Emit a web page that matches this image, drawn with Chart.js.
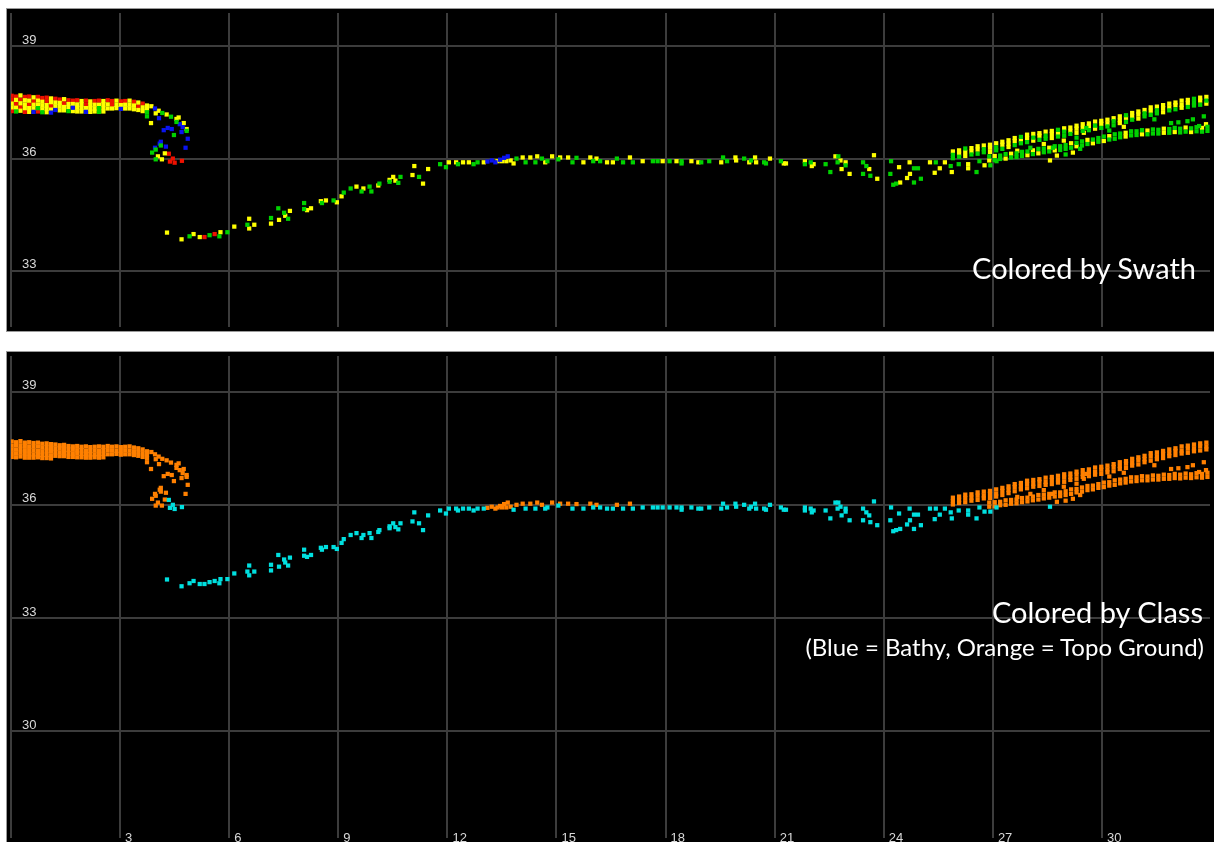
<!DOCTYPE html>
<html>
<head>
<meta charset="utf-8">
<script src="https://cdn.jsdelivr.net/npm/chart.js@4.4.1/dist/chart.umd.min.js"></script>
<style>
  html, body { margin: 0; padding: 0; background: #fff; width: 1214px; height: 842px; overflow: hidden; }
  canvas { position: absolute; left: 7px; background: #000; outline: 1px solid #9a9a9a; }
  #swathChart { top: 9px; }
  #classChart { top: 352px; }
  .note { position: absolute; color: #fff; font-family: Lato, 'Open Sans', sans-serif; line-height: 1; white-space: nowrap; }
</style>
</head>
<body>
<canvas id="swathChart" width="1207" height="322"></canvas>
<canvas id="classChart" width="1207" height="490"></canvas>
<div class="note" style="right:18px; top:253px; font-size:29px;">Colored by Swath</div>
<div class="note" style="right:11px; top:597px; font-size:29px;">Colored by Class</div>
<div class="note" style="right:10px; top:635px; font-size:24px;">(Blue = Bathy, Orange = Topo Ground)</div>
<script>
// swath codes: R red, Y yellow, G green, B blue
// left topo band (dense rows)
const bandX = [0.02,0.14,0.26,0.38,0.50,0.62,0.74,0.86,0.98,1.10,1.22,1.34,1.46,1.58,1.70,1.82,1.94,2.06,2.18,2.30,2.42,2.54,2.66,2.78,2.90,3.02,3.14,3.26,3.38,3.50,3.62,3.74];
const bandY1 = [37.68,37.66,37.69,37.65,37.66,37.64,37.65,37.62,37.63,37.61,37.60,37.58,37.59,37.56,37.55,37.56,37.54,37.55,37.53,37.54,37.55,37.54,37.56,37.54,37.55,37.53,37.54,37.55,37.52,37.50,37.47,37.42];
const bandS1 = 'RRYRRYRRRYRRYRRRYRYRRYRRYRRYRYRY';
const bandY2 = [37.57,37.57,37.58,37.56,37.55,37.54,37.55,37.52,37.53,37.51,37.50,37.49,37.48,37.46,37.46,37.45,37.45,37.44,37.43,37.44,37.44,37.45,37.45,37.44,37.44,37.43,37.44,37.44,37.42,37.40,37.37,37.33];
const bandS2 = 'RYRYYRYYRYYYRYYYYRYYYYYRYYYYYRYY';
const bandY3 = [37.47,37.46,37.48,37.45,37.45,37.44,37.44,37.42,37.43,37.41,37.40,37.39,37.38,37.37,37.36,37.36,37.35,37.35,37.34,37.34,37.35,37.35,37.34,37.34,37.35,37.33,37.34,37.34,37.32,37.30,37.27,37.24];
const bandS3 = 'YRYYRYYYYRYYYYBYYYYYGYYYYBYYYYYG';
const bandY4 = [37.37,37.36,37.38,37.35,37.35,37.34,37.35,37.32,37.33,37.31,37.30,37.29,37.29,37.27,37.27,37.26,37.26,37.25,37.25,37.26,37.25,37.26];
const bandS4 = 'YYRYYYGYYYBYYGYYYBYYGY';
const bandY5 = [37.27,37.26,37.28,37.25,37.25,37.25,37.26,37.24,37.24,37.23];
const bandS5 = 'RGYRYBRGYB';

// curl at the shoreline
const curlX = [3.86,3.96,4.06,4.16,4.28,4.40,4.55,3.85,4.07,3.74,3.98,4.61,4.48,4.20,4.31,4.42,4.64,4.72,4.83,4.83,4.69,4.86,4.12,4.09,4.26,4.80,3.96,3.88,3.98,4.12,4.23,4.04,3.98,4.15,4.55,4.75];
const curlY = [37.40,37.34,37.28,37.22,37.18,37.12,37.06,36.95,37.08,37.13,37.21,37.10,36.63,36.76,36.82,36.79,36.92,36.84,36.79,36.74,36.71,36.53,36.45,36.40,36.32,36.29,36.29,36.16,36.24,36.35,36.14,36.06,35.98,35.98,36.98,36.95];
const curlS = 'YBYGYGYYBGYYGBBBBBYGBBBBBBBGGGYYGYGY';
const curlBathyX = [4.34,4.37,4.50,4.70,4.45];
const curlBathyY = [36.13,35.92,35.89,35.94,36.00];
const curlBathyS = 'RRRRR';

// bathy slope rising out of the channel
const slopeX = [4.29,4.69,4.91,5.02,5.19,5.32,5.46,5.60,5.76,5.73,5.95,6.14,6.55,6.50,6.69,6.55,7.15,7.35,7.15,7.37,7.51,7.54,7.62,7.67,8.06,8.06,8.14,8.25,8.52,8.66,8.55,8.87,8.96,9.09,9.15,9.34,9.50,9.69,9.64,9.86,9.91,10.13,10.10,10.41,10.41,10.51,10.57,10.71,10.65,11.09,11.04,11.22,11.33,11.47,11.80,11.96];
const slopeY = [34.02,33.84,33.92,33.98,33.90,33.90,33.95,33.98,34.03,33.92,34.03,34.18,34.39,34.23,34.23,34.13,34.41,34.67,34.26,34.36,34.55,34.47,34.39,34.60,34.81,34.65,34.62,34.67,34.86,34.88,34.81,34.88,34.83,34.99,35.09,35.20,35.25,35.20,35.12,35.25,35.12,35.33,35.28,35.43,35.38,35.51,35.41,35.51,35.35,35.80,35.56,35.51,35.33,35.72,35.85,35.77];
const slopeS = 'YYGYYRGRYG' + 'GYYGYYGGYY' + 'GYGYGGYYYY' + 'GGYYGGYYGG' + 'GGYYGYYGGY' + 'YGYYGG';

// flat bathy floor and scatter
const flatX = [12.04,12.24,12.29,12.43,12.59,12.72,12.83,13.00,13.82,14.15,14.42,14.69,14.75,15.05,15.44,15.74,16.01,16.20,16.39,16.55,16.83,17.10,17.37,17.65,17.78,17.92,18.11,18.30,18.44,18.44,18.71,18.90,18.98,19.20,19.53,19.58,19.69,19.92,19.94,20.16,20.30,20.35,20.46,20.49,20.71,20.76,20.87,21.17,21.25,21.31,21.83,21.83,21.99,22.07,22.02,22.40,22.53,22.67,22.75,22.73,22.81,22.84,22.95,22.95,23.06,23.43,23.52,23.60,23.43,23.63,23.73,23.82,24.20,24.18,24.26,24.34,24.45,24.64,24.72,24.71,24.42,24.83,24.94,24.83,25.02,25.27,25.43,25.40,25.54,25.68,25.84,25.87,26.06,26.32,26.32,26.55,26.63,26.77,26.93,27.10,28.57];
const flatY = [35.90,35.90,35.85,35.90,35.90,35.85,35.90,35.90,35.87,35.90,35.90,35.90,35.93,35.98,35.90,35.90,35.93,35.93,35.90,35.90,35.90,35.90,35.93,35.93,35.93,35.93,35.93,35.93,35.93,35.87,35.93,35.90,35.90,35.93,35.90,36.03,35.93,36.03,35.95,36.00,35.90,35.95,36.03,35.90,35.90,35.87,36.00,35.93,35.87,35.87,35.93,35.85,35.90,35.85,35.80,35.85,35.64,36.06,36.06,35.90,35.95,35.72,35.90,35.82,35.59,35.90,35.80,35.72,35.59,35.54,36.09,35.46,35.93,35.59,35.30,35.33,35.36,35.48,35.59,35.90,35.77,35.74,35.74,35.36,35.46,35.90,35.90,35.62,35.74,35.90,35.80,35.64,35.85,35.85,35.74,35.64,35.93,35.82,35.82,35.93,35.95];
const flatS = 'YYGYYGGYYG' + 'GYGGGYGGYY' + 'GGYGGYGYGG' + 'YYGGYGGYYG' + 'YGYYGGYGYY' + 'YGGYYGGYGG' + 'YYYGYGGYGG' + 'YYGGGGYYYY' + 'YGGGGYGYYY' + 'GYGYYGGYGG' + 'Y';

// topo patch on the flat near x 13-17
const flatTopoX = [13.10,13.22,13.32,13.45,13.56,13.66,13.38,13.50,13.62,13.74,13.90,14.07,14.28,14.47,14.60,14.88,15.10,15.32,15.55,15.93,16.10,16.66,17.02];
const flatTopoY = [35.92,35.95,35.90,35.97,36.02,36.06,35.93,35.93,35.93,35.95,36.00,36.03,36.03,36.06,36.00,36.06,36.03,36.03,36.02,36.03,36.00,36.00,36.03];
const flatTopoS = 'BBBBBBYYYYGYYYGYYYGYYGY';

// rising topo on the right: upper band (3 rows) and lower band (2 rows)
const riseX = [25.90,26.07,26.24,26.41,26.58,26.75,26.92,27.09,27.26,27.43,27.60,27.77,27.94,28.11,28.28,28.45,28.62,28.79,28.96,29.13,29.30,29.47,29.64,29.81,29.98,30.15,30.32,30.49,30.66,30.83,31.00,31.17,31.34,31.51,31.68,31.85,32.02,32.19,32.36,32.53,32.70,32.87];
const riseU1 = [36.19,36.22,36.27,36.28,36.33,36.35,36.37,36.41,36.45,36.49,36.55,36.58,36.64,36.66,36.68,36.72,36.74,36.77,36.81,36.83,36.88,36.92,36.94,36.99,37.01,37.04,37.08,37.13,37.16,37.22,37.26,37.30,37.37,37.39,37.43,37.47,37.50,37.55,37.57,37.60,37.63,37.65];
const riseS1 = 'YYGYYYYYYYYGYYYYYGYYYYYYYYYYGYYYYYYYYYYGYY';
const riseU2 = [36.10,36.13,36.18,36.19,36.24,36.25,36.29,36.30,36.37,36.40,36.47,36.49,36.55,36.56,36.61,36.61,36.66,36.67,36.72,36.74,36.80,36.82,36.87,36.88,36.93,36.94,37.00,37.03,37.09,37.12,37.18,37.21,37.28,37.29,37.35,37.37,37.43,37.44,37.49,37.50,37.55,37.55];
const riseS2 = 'GYYYYGYGYYYYYGYGYYGYYYYGYYGYYYYGYGYYYYYGYG';
const riseU3 = [36.01,36.05,36.07,36.11,36.13,36.17,36.18,36.22,36.26,36.31,36.36,36.41,36.44,36.48,36.50,36.53,36.55,36.59,36.61,36.66,36.69,36.74,36.76,36.80,36.82,36.86,36.89,36.95,36.98,37.04,37.07,37.13,37.17,37.21,37.24,37.29,37.32,37.36,37.38,37.42,37.44,37.47];
const riseS3 = 'GGYGGGYGGYGGGYGGYGGGYGGYGGGYGGYGGGYGGYGGGY';
const lowX = [26.90,27.05,27.20,27.35,27.50,27.65,27.80,27.95,28.10,28.25,28.40,28.55,28.70,28.85,29.00,29.15,29.30,29.45,29.60,29.75,29.90,30.05,30.20,30.35,30.50,30.65,30.80,30.95,31.10,31.25,31.40,31.55,31.70,31.85,32.00,32.15,32.30,32.45,32.60,32.75,32.90];
const lowL1 = [36.06,36.07,36.08,36.12,36.13,36.14,36.18,36.19,36.22,36.26,36.27,36.29,36.33,36.33,36.36,36.41,36.42,36.46,36.50,36.51,36.55,36.59,36.60,36.65,36.67,36.69,36.73,36.73,36.76,36.75,36.78,36.77,36.80,36.79,36.82,36.80,36.83,36.81,36.84,36.82,36.85];
const lowS1 = 'GYGGYGGGYGGYGGGYGGYGGGYGGYGGGYGGYGGGYGGYG';
const lowL2 = [35.95,35.96,35.99,36.00,36.03,36.04,36.07,36.09,36.12,36.14,36.17,36.19,36.22,36.23,36.26,36.29,36.33,36.35,36.39,36.41,36.45,36.47,36.51,36.53,36.57,36.59,36.62,36.63,36.65,36.65,36.67,36.67,36.69,36.69,36.71,36.70,36.72,36.71,36.73,36.72,36.74];
const lowS2 = 'YGGYGGGYGYGGYGGGYGGYGYGGGYGGYGGGYGYGGYGGG';
const midX = [27.67,28.03,28.40,28.65,28.95,29.30,29.50,29.57,29.20,29.40,28.76,29.00,31.44,31.90,32.10,32.35,32.50,32.80,32.67,32.86,30.20,30.60];
const midY = [36.21,36.29,36.39,36.29,36.48,36.56,36.69,36.82,36.16,36.26,36.08,36.11,37.05,36.95,36.97,37.00,37.05,37.13,36.87,36.92,36.75,36.85];
const midS = 'YGYGYGYGYGYGGGGGGGGYGY';

const segments = [
  [bandX, bandY1, bandS1, 'topo'],
  [bandX, bandY2, bandS2, 'topo'],
  [bandX, bandY3, bandS3, 'topo'],
  [bandX, bandY4, bandS4, 'topo'],
  [bandX, bandY5, bandS5, 'topo'],
  [curlX, curlY, curlS, 'topo'],
  [curlBathyX, curlBathyY, curlBathyS, 'bathy'],
  [slopeX, slopeY, slopeS, 'bathy'],
  [flatX, flatY, flatS, 'bathy'],
  [flatTopoX, flatTopoY, flatTopoS, 'topo'],
  [riseX, riseU1, riseS1, 'topo'],
  [riseX, riseU2, riseS2, 'topo'],
  [riseX, riseU3, riseS3, 'topo'],
  [lowX, lowL1, lowS1, 'topo'],
  [lowX, lowL2, lowS2, 'topo'],
  [midX, midY, midS, 'topo']
];

const swathColors = { G: '#00d200', B: '#0a14f0', Y: '#ffff00', R: '#ee1100' };
const classColors = { bathy: '#00e0e0', topo: '#ff8000' };

function pick(test) {
  const pts = [];
  segments.forEach(function(seg) {
    const xs = seg[0], ys = seg[1], sw = seg[2], cls = seg[3];
    for (let i = 0; i < ys.length; i++) {
      if (test(sw[i], cls)) pts.push({ x: xs[i], y: ys[i] });
    }
  });
  return pts;
}

const swathSets = Object.keys(swathColors).map(function(code) {
  return { data: pick(function(s) { return s === code; }), backgroundColor: swathColors[code] };
});
const classSets = Object.keys(classColors).map(function(cls) {
  return { data: pick(function(s, c) { return c === cls; }), backgroundColor: classColors[cls] };
});

const gridColor = '#3c3c3c';
const tickFont = { family: 'Liberation Sans', size: 13 };

function makeChart(id, yMin, yMax, datasets, xLabels) {
  return new Chart(document.getElementById(id), {
    type: 'scatter',
    data: { datasets: datasets },
    options: {
      responsive: false,
      animation: false,
      events: [],
      layout: { padding: 0 },
      plugins: { legend: { display: false }, tooltip: { enabled: false } },
      elements: { point: { pointStyle: 'rect', radius: 3, borderWidth: 0 } },
      scales: {
        x: {
          type: 'linear', min: 0, max: 32.97,
          border: { display: false },
          grid: { color: gridColor, lineWidth: 2, drawTicks: false },
          ticks: {
            display: xLabels, stepSize: 3, includeBounds: false, autoSkip: false, maxRotation: 0,
            mirror: true, align: 'start', labelOffset: 5, padding: -8, color: '#d8d8d8', font: tickFont,
            callback: function(v) { return v === 0 ? '' : v; }
          },
          afterFit: function(s) { s.height = 0; s.paddingLeft = 0; s.paddingRight = 0; }
        },
        y: {
          min: yMin, max: yMax,
          border: { display: false },
          grid: { color: gridColor, lineWidth: 2, drawTicks: false },
          ticks: { stepSize: 3, includeBounds: false, mirror: true, padding: 11, labelOffset: -6, color: '#d8d8d8', font: tickFont },
          afterFit: function(s) { s.width = 0; s.paddingTop = 0; s.paddingBottom = 0; }
        }
      }
    }
  });
}

makeChart('swathChart', 31.494, 39.895, swathSets, false);
makeChart('classChart', 27.164, 39.947, classSets, true);
</script>
</body>
</html>
